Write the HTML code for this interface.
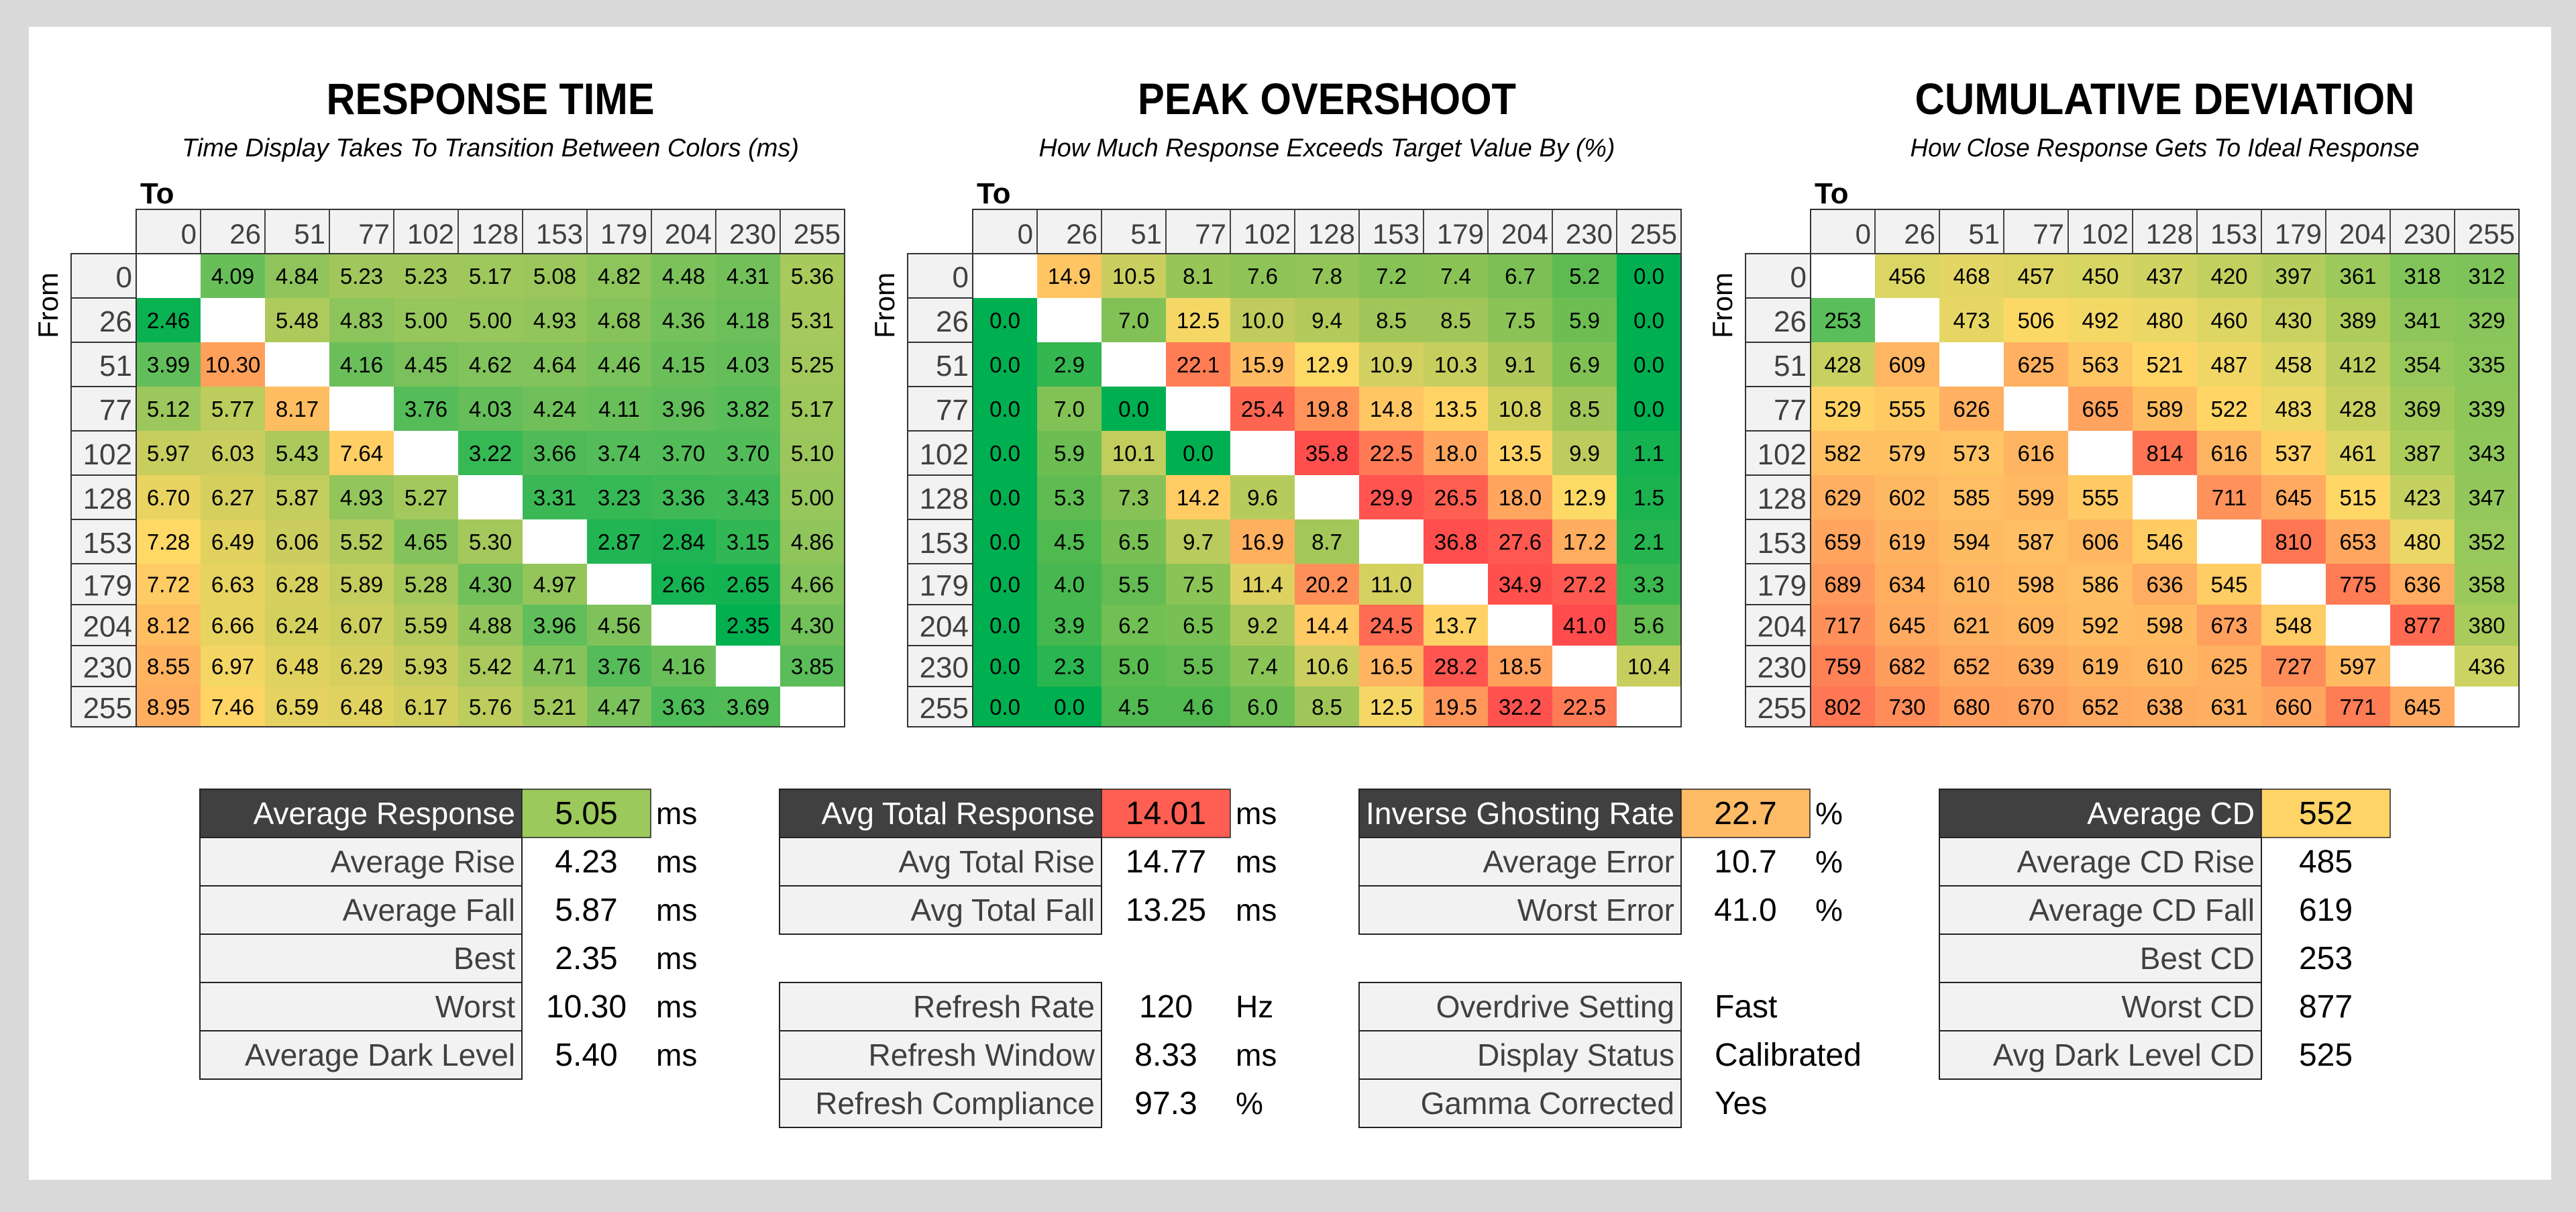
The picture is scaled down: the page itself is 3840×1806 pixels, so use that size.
<!DOCTYPE html>
<html><head><meta charset="utf-8">
<style>
html,body{margin:0;padding:0;background:#d9d9d9;}
svg{display:block;font-family:"Liberation Sans",sans-serif;}
</style></head>
<body>
<svg id="s" width="3840" height="1806" viewBox="0 0 3840 1806" xmlns="http://www.w3.org/2000/svg">
<rect x="0" y="0" width="3840" height="1806" fill="#d9d9d9"/>
<rect x="43" y="40" width="3760" height="1718" fill="#ffffff"/>
</svg>
<script>
const levels = [0,26,51,77,102,128,153,179,204,230,255];
const rtValues = [
[null,4.09,4.84,5.23,5.23,5.17,5.08,4.82,4.48,4.31,5.36],
[2.46,null,5.48,4.83,5.00,5.00,4.93,4.68,4.36,4.18,5.31],
[3.99,10.30,null,4.16,4.45,4.62,4.64,4.46,4.15,4.03,5.25],
[5.12,5.77,8.17,null,3.76,4.03,4.24,4.11,3.96,3.82,5.17],
[5.97,6.03,5.43,7.64,null,3.22,3.66,3.74,3.70,3.70,5.10],
[6.70,6.27,5.87,4.93,5.27,null,3.31,3.23,3.36,3.43,5.00],
[7.28,6.49,6.06,5.52,4.65,5.30,null,2.87,2.84,3.15,4.86],
[7.72,6.63,6.28,5.89,5.28,4.30,4.97,null,2.66,2.65,4.66],
[8.12,6.66,6.24,6.07,5.59,4.88,3.96,4.56,null,2.35,4.30],
[8.55,6.97,6.48,6.29,5.93,5.42,4.71,3.76,4.16,null,3.85],
[8.95,7.46,6.59,6.48,6.17,5.76,5.21,4.47,3.63,3.69,null]];
const poValues = [
[null,14.9,10.5,8.1,7.6,7.8,7.2,7.4,6.7,5.2,0.0],
[0.0,null,7.0,12.5,10.0,9.4,8.5,8.5,7.5,5.9,0.0],
[0.0,2.9,null,22.1,15.9,12.9,10.9,10.3,9.1,6.9,0.0],
[0.0,7.0,0.0,null,25.4,19.8,14.8,13.5,10.8,8.5,0.0],
[0.0,5.9,10.1,0.0,null,35.8,22.5,18.0,13.5,9.9,1.1],
[0.0,5.3,7.3,14.2,9.6,null,29.9,26.5,18.0,12.9,1.5],
[0.0,4.5,6.5,9.7,16.9,8.7,null,36.8,27.6,17.2,2.1],
[0.0,4.0,5.5,7.5,11.4,20.2,11.0,null,34.9,27.2,3.3],
[0.0,3.9,6.2,6.5,9.2,14.4,24.5,13.7,null,41.0,5.6],
[0.0,2.3,5.0,5.5,7.4,10.6,16.5,28.2,18.5,null,10.4],
[0.0,0.0,4.5,4.6,6.0,8.5,12.5,19.5,32.2,22.5,null]];
const cdValues = [
[null,456,468,457,450,437,420,397,361,318,312],
[253,null,473,506,492,480,460,430,389,341,329],
[428,609,null,625,563,521,487,458,412,354,335],
[529,555,626,null,665,589,522,483,428,369,339],
[582,579,573,616,null,814,616,537,461,387,343],
[629,602,585,599,555,null,711,645,515,423,347],
[659,619,594,587,606,546,null,810,653,480,352],
[689,634,610,598,586,636,545,null,775,636,358],
[717,645,621,609,592,598,673,548,null,877,380],
[759,682,652,639,619,610,625,727,597,null,436],
[802,730,680,670,652,638,631,660,771,645,null]];
const rtStops = [[2.3,[0,176,80]],[4.0,[99,190,90]],[5.3,[165,200,92]],[6.5,[225,210,95]],[7.3,[255,217,102]],[8.5,[255,178,96]],[10.3,[255,160,90]],[14,[255,80,80]]];
const poStops = [[0,[0,176,80]],[4.5,[80,185,80]],[9,[170,200,90]],[13,[255,217,102]],[17,[255,175,95]],[22,[255,125,85]],[28,[255,85,80]],[41,[255,75,75]]];
const cdStops = [[253,[90,190,90]],[320,[130,196,90]],[400,[180,205,92]],[450,[215,213,100]],[510,[255,217,102]],[600,[255,185,98]],[660,[255,165,95]],[770,[255,125,85]],[880,[255,105,80]]];

const NS="http://www.w3.org/2000/svg";
const svg=document.getElementById('s');
function mk(tag,attrs,parent){const e=document.createElementNS(NS,tag);for(const k in attrs)e.setAttribute(k,attrs[k]);(parent||svg).appendChild(e);return e;}
function colorFor(v,stops){
  if(v<=stops[0][0])return 'rgb('+stops[0][1].join(',')+')';
  for(let i=1;i<stops.length;i++){if(v<=stops[i][0]){const a=stops[i-1],b=stops[i];const t=(v-a[0])/(b[0]-a[0]);return 'rgb('+a[1].map((c,j)=>Math.round(c+(b[1][j]-c)*t)).join(',')+')';}}
  return 'rgb('+stops[stops.length-1][1].join(',')+')';
}
const rowEdges=[378,444,510,576,642,708,774,840,901,962,1023,1083];
const CW=96;
function grid(key,dataX,values,stops,dec,title,titleW,sub,subW){
  const g=mk('g',{});
  
  
  const cx=dataX+CW*11/2;
  const t=mk('text',{x:cx,y:170,'text-anchor':'middle','font-size':66,'font-weight':'bold',fill:'#000',textLength:titleW,lengthAdjust:'spacingAndGlyphs'},g);
  t.textContent=title;
  
  
  const st=mk('text',{x:cx,y:233,'text-anchor':'middle','font-size':38,'font-style':'italic',fill:'#000',textLength:subW,lengthAdjust:'spacingAndGlyphs'},g);
  st.textContent=sub;
  
  
  const to=mk('text',{x:dataX+6,y:303,'font-size':44,'font-weight':'bold',fill:'#000'},g);
  to.textContent='To';
  
  
  const fr=mk('text',{x:0,y:0,'font-size':42,fill:'#000','text-anchor':'middle',transform:'translate('+(dataX-97-20)+',455) rotate(-90)'},g);
  fr.textContent='From';
  
  
  // header
  mk('rect',{x:dataX,y:312,width:CW*11,height:66,fill:'#f2f2f2',stroke:'#333','stroke-width':2},g);
  mk('rect',{x:dataX-97,y:378,width:97,height:705,fill:'#f2f2f2',stroke:'#333','stroke-width':2},g);
  levels.forEach((lv,j)=>{
    if(j>0)mk('line',{x1:dataX+j*CW,y1:312,x2:dataX+j*CW,y2:378,stroke:'#444','stroke-width':2},g);
    const h=mk('text',{x:dataX+(j+1)*CW-6,y:363,'text-anchor':'end','font-size':42,fill:'#404040'},g);
    h.textContent=lv;
    
    
  });
  levels.forEach((lv,i)=>{
    const y0=rowEdges[i],y1=rowEdges[i+1];
    if(i>0)mk('line',{x1:dataX-97,y1:y0,x2:dataX,y2:y0,stroke:'#333','stroke-width':2},g);
    const r=mk('text',{x:dataX-6,y:(y0+y1)/2+17,'text-anchor':'end','font-size':44,fill:'#404040'},g);
    r.textContent=lv;
    
    
    values[i].forEach((v,j)=>{
      const x=dataX+j*CW;
      const c=mk('rect',{x:x,y:y0,width:CW+0.5,height:y1-y0+0.5,fill:v===null?'#ffffff':colorFor(v,stops)},g);
      
      
      if(v!==null){
        const tx=mk('text',{x:x+CW/2,y:(y0+y1)/2+12,'text-anchor':'middle','font-size':33,fill:'#000'},g);
        tx.textContent=v.toFixed(dec);
        
        
      }
    });
  });
  mk('rect',{x:dataX,y:378,width:CW*11,height:705,fill:'none',stroke:'#333','stroke-width':2},g);
}
grid('response-time',203,rtValues,rtStops,2,'RESPONSE TIME',489,'Time Display Takes To Transition Between Colors (ms)',920);
grid('peak-overshoot',1450,poValues,poStops,1,'PEAK OVERSHOOT',564,'How Much Response Exceeds Target Value By (%)',859);
grid('cumulative-deviation',2699,cdValues,cdStops,0,'CUMULATIVE DEVIATION',745,'How Close Response Gets To Ideal Response',759);

function summary(key,x,y,rows,headColor,valAlign){
  const g=mk('g',{});
  
  
  const H=72,LW=480,VW=192;
  rows.forEach((r,i)=>{
    const yy=y+i*H;
    const head=(i===0&&headColor);
    mk('rect',{x:x,y:yy,width:LW,height:H,fill:head?'#404040':'#f2f2f2',stroke:'#222','stroke-width':2},g);
    if(head)mk('rect',{x:x+LW,y:yy,width:VW,height:H,fill:headColor,stroke:'#222','stroke-width':1.5},g);
    const lb=mk('text',{x:x+LW-10,y:yy+52,'text-anchor':'end','font-size':46,fill:head?'#ffffff':'#404040'},g);
    lb.textContent=r[0];
    if(r[0].length>18)lb.setAttribute('textLength',460);
    
    
    const v=mk('text',{x:valAlign==='start'?x+LW+50:x+LW+VW/2,y:yy+52,'text-anchor':valAlign==='start'?'start':'middle','font-size':48,fill:'#000'},g);
    v.textContent=r[1];
    
    
    if(r[2]){const u=mk('text',{x:x+LW+VW+8,y:yy+52,'font-size':46,fill:'#000'},g);u.textContent=r[2];
      
      }
  });
}
summary('response-summary',298,1176,[['Average Response','5.05','ms'],['Average Rise','4.23','ms'],['Average Fall','5.87','ms'],['Best','2.35','ms'],['Worst','10.30','ms'],['Average Dark Level','5.40','ms']],'#9bc95c');
summary('overshoot-summary',1162,1176,[['Avg Total Response','14.01','ms'],['Avg Total Rise','14.77','ms'],['Avg Total Fall','13.25','ms']],'#ff5f52');
summary('refresh-summary',1162,1464,[['Refresh Rate','120','Hz'],['Refresh Window','8.33','ms'],['Refresh Compliance','97.3','%']],null);
summary('error-summary',2026,1176,[['Inverse Ghosting Rate','22.7','%'],['Average Error','10.7','%'],['Worst Error','41.0','%']],'#ffbb66');
summary('settings-summary',2026,1464,[['Overdrive Setting','Fast'],['Display Status','Calibrated'],['Gamma Corrected','Yes']],null,'start');
summary('cd-summary',2891,1176,[['Average CD','552'],['Average CD Rise','485'],['Average CD Fall','619'],['Best CD','253'],['Worst CD','877'],['Avg Dark Level CD','525']],'#ffd466');
</script>
</body></html>
